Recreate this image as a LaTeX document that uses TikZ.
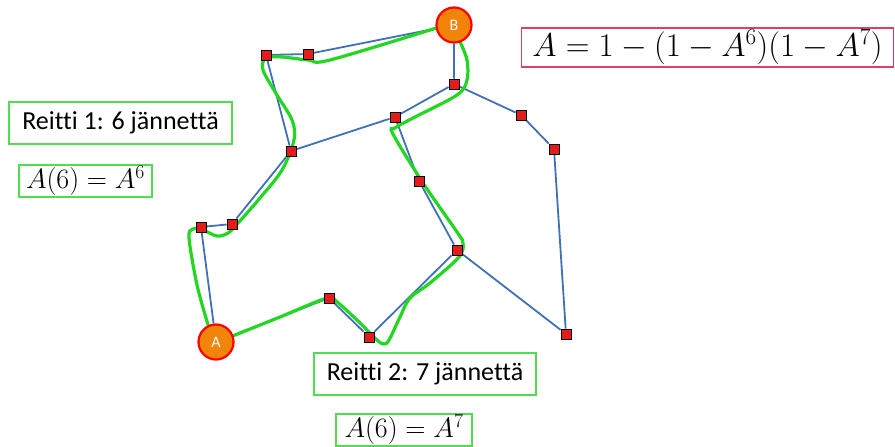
\RequirePackage{fix-cm}
\documentclass[tikz,border=0pt]{standalone}
\usepackage{fontspec}
\setmainfont{Carlito}[Ligatures=NoCommon]
\usepackage{amsmath}
\usetikzlibrary{backgrounds}

\definecolor{linkblue}{RGB}{65,113,181}
\definecolor{routegreen}{RGB}{34,214,34}
\definecolor{boxgreen}{RGB}{80,222,80}
\definecolor{boxred}{RGB}{224,62,104}
\definecolor{sitered}{RGB}{228,28,28}
\definecolor{endorange}{RGB}{242,132,10}

\begin{document}
\begin{tikzpicture}[
    x=1pt, y=-1pt,
    site/.style={draw=black, rectangle, fill=sitered, line width=0.9pt, minimum size=10pt, inner sep=0pt},
    endpt/.style={draw=red, circle, fill=endorange, line width=2.2pt, minimum size=35pt, inner sep=0pt, text=white, font=\fontsize{16}{18}\selectfont},
    link/.style={draw=linkblue, line width=1.8pt},
    route/.style={draw=routegreen, line width=3.2pt, line cap=round},
    tag/.style={draw=boxgreen, rectangle, line width=1.2pt, inner sep=0pt, align=center, font=\fontsize{26}{30}\selectfont},
    eqbox/.style={rectangle, line width=1.2pt, inner sep=0pt, font=\fontsize{28}{32}\selectfont}
]
    \useasboundingbox (0,0) rectangle (895,447);

    % End points
    \node[endpt] (A) at (216,342) {A};
    \node[endpt] (B) at (454,25) {B};

    % Network sites
    \node[site] (s1) at (266,55) {};
    \node[site] (s2) at (308,54) {};
    \node[site] (s3) at (454,84) {};
    \node[site] (s4) at (395,117) {};
    \node[site] (s5) at (291,151) {};
    \node[site] (s6) at (521,115) {};
    \node[site] (s7) at (554,149) {};
    \node[site] (s8) at (419,181) {};
    \node[site] (s9) at (457,250) {};
    \node[site] (s10) at (566,334) {};
    \node[site] (s11) at (201,227) {};
    \node[site] (s12) at (232,224) {};
    \node[site] (s13) at (329,298) {};
    \node[site] (s14) at (369,337) {};

    % Links and routes behind the sites
    \begin{scope}[on background layer]
        \draw[link] (B) -- (s2) -- (s1) -- (s5);
        \draw[link] (B) -- (s3) -- (s4) -- (s5);
        \draw[link] (s3) -- (s6) -- (s7) -- (s10);
        \draw[link] (s4) -- (s8) -- (s9) -- (s10);
        \draw[link] (s9) -- (s14) -- (s13) -- (A);
        \draw[link] (A) -- (s11) -- (s12) -- (s5);

        % Route 1
        \draw[route] plot[smooth, tension=0.55] coordinates {
            (A.115) (197,285) (189,238) (193,229) (203,230) (217,236) (228,233)
            (238,223) (260,198) (282,170) (294,140) (292,120) (277,95)
            (263,70) (266,58) (282,57) (308,60) (330,60) (B.190)};

        % Route 2
        \draw[route] plot[smooth, tension=0.55] coordinates {
            (A.20) (280,317) (327,298) (337,302) (357,320) (377,340) (384,344)
            (389,340) (400,317) (410,298) (430,283) (459,257) (463,243)
            (457,232) (423,183) (393,134) (395,128) (413,118) (457,95)
            (467,80) (467,60) (B.290)};
    \end{scope}

    % Labels
    \node[tag, minimum width=223pt, minimum height=42pt] (r1) at (120.5,123) {Reitti 1: 6 jännettä};
    \node[eqbox, draw=boxgreen, minimum width=133pt, minimum height=32pt] (a1) at (85.5,181) {$A(6)=A^6$};
    \node[tag, minimum width=222pt, minimum height=42pt] (r2) at (425,374) {Reitti 2: 7 jännettä};
    \node[eqbox, draw=boxgreen, minimum width=136pt, minimum height=32pt] (a2) at (404,430) {$A(6)=A^7$};
    \node[eqbox, draw=boxred, minimum width=372pt, minimum height=39pt, font=\fontsize{33}{36}\selectfont] (tot) at (707.5,47.5) {$A=1-(1-A^6)(1-A^7)$};

\end{tikzpicture}
\end{document}
